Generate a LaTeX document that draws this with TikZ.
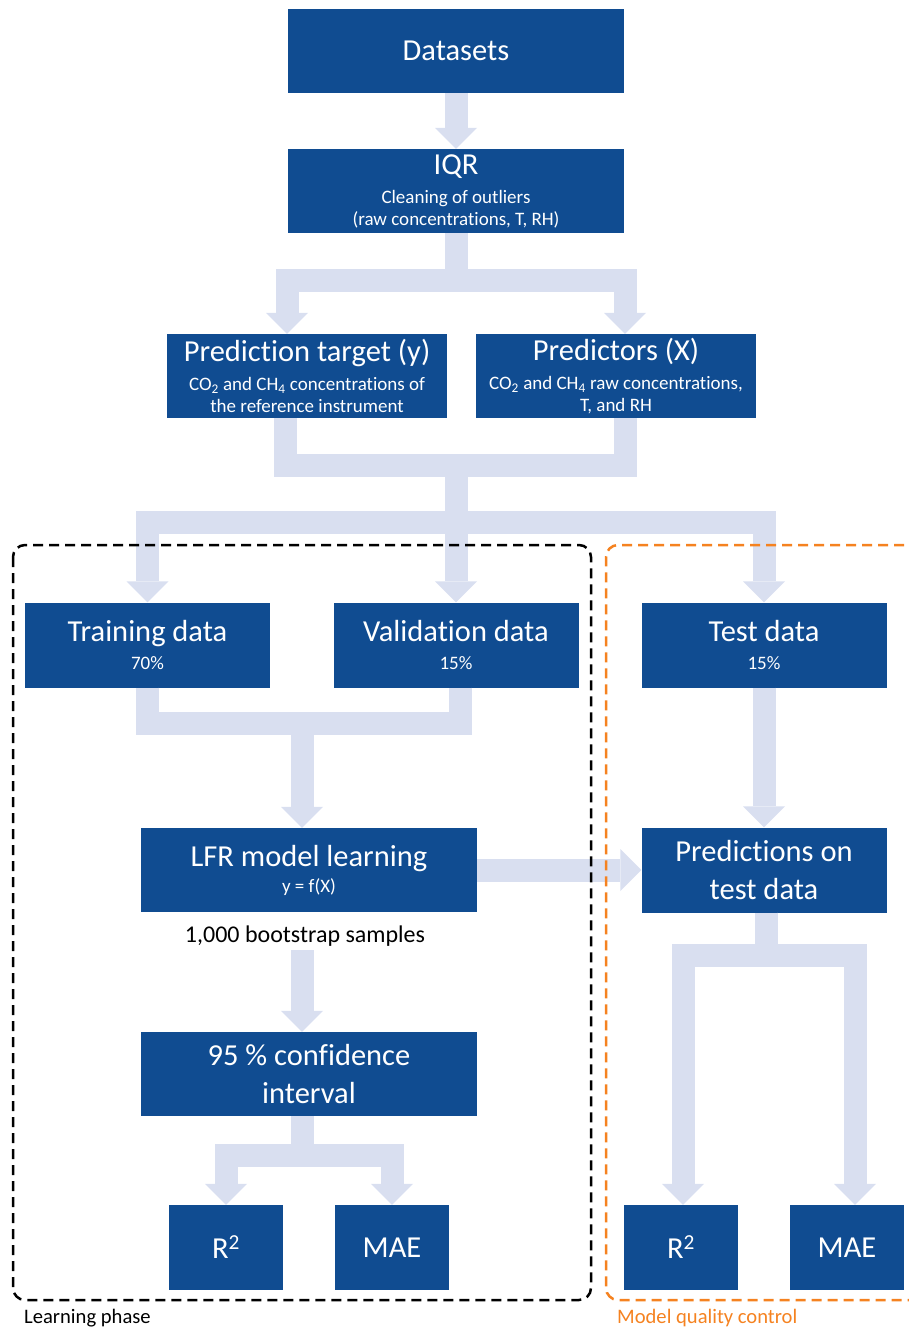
\documentclass[tikz,border=0pt]{standalone}
\usepackage{fontspec}
\setmainfont{Carlito}[Ligatures=NoCommon]
\usepackage{tikz}
\usetikzlibrary{arrows.meta, positioning, calc}

\definecolor{boxblue}{RGB}{16,76,145}
\definecolor{flowgray}{RGB}{217,223,240}
\definecolor{qcorange}{RGB}{245,130,32}

\newcommand{\titlefont}{\fontsize{30.5}{38}\selectfont}
\newcommand{\notefont}{\fontsize{19}{22}\selectfont}

\begin{document}
\begin{tikzpicture}[
  x=1pt, y=-1pt,
  box/.style={fill=boxblue, text=white, inner sep=0pt,
              minimum width=336pt, minimum height=84pt,
              font=\notefont, align=center},
  narrow/.style={box, minimum width=280pt},
  datbox/.style={box, minimum width=245pt, minimum height=85pt},
  metric/.style={box, minimum width=114pt, minimum height=85pt, font=\titlefont},
  flow/.style={draw=flowgray, line width=23pt, line join=miter,
               -{Triangle[width=42pt, length=21pt, line width=0pt]}},
  band/.style={draw=flowgray, line width=23pt, line join=miter},
  phasebox/.style={draw=black, line width=2.5pt, dash pattern=on 10pt off 6pt,
                   rounded corners=12pt},
  qcbox/.style={phasebox, draw=qcorange},
  lbl/.style={inner sep=0pt, anchor=base west, font=\fontsize{20.6}{24}\selectfont},
]
\useasboundingbox (0,0) rectangle (908,1328);

% Input
\node[box, font=\titlefont] (data) at (456,51) {Datasets};
\node[box] (iqr) at (456,191) {\titlefont IQR\\[7pt] Cleaning of outliers\\ (raw concentrations, T, RH)};

% Variables
\node[narrow] (target) at (307,376) {\titlefont Prediction target (y)\\[7pt]
  CO\textsubscript{2} and CH\textsubscript{4} concentrations of\\ the reference instrument};
\node[narrow] (preds) at (616,376) {\titlefont Predictors (X)\\[7pt]
  CO\textsubscript{2} and CH\textsubscript{4} raw concentrations,\\ T, and RH};

% Split
\node[datbox] (train) at (147.5,645) {\titlefont Training data\\[6pt] 70\%};
\node[datbox] (valid) at (456,645) {\titlefont Validation data\\[6pt] 15\%};
\node[datbox] (test) at (764,645) {\titlefont Test data\\[6pt] 15\%};

% Model
\node[box] (lfr) at (309,870) {\titlefont LFR model learning\\[4pt] y = f(X)};
\node[inner sep=0pt, anchor=base, font=\fontsize{24}{28}\selectfont] (boot) at (305,942) {1,000 bootstrap samples};
\node[box, font=\titlefont] (ci) at (309,1074) {95 \% confidence\\interval};
\node[datbox, font=\titlefont] (pred) at (764,870) {Predictions on\\test data};

% Metrics
\node[metric] (r2l) at (226,1247.5) {R\textsuperscript{2}};
\node[metric] (mael) at (392,1247.5) {MAE};
\node[metric] (r2r) at (681,1247.5) {R\textsuperscript{2}};
\node[metric] (maer) at (847,1247.5) {MAE};

% Edges
\coordinate (s1) at (456,280.5);
\coordinate (m1) at (456,465);
\coordinate (s2) at (456,522.5);
\coordinate (m2) at (302,723);
\coordinate (s3) at (302,1155.5);
\coordinate (s4) at (766,955);

\draw[flow] (data) -- (iqr);
\draw[flow] (iqr.south) -- (s1) -| ([xshift=-20pt]target.north);
\draw[flow] (iqr.south) -- (s1) -| ([xshift=9pt]preds.north);

\draw[band] ([xshift=-22pt]target.south) |- (m1);
\draw[band] ([xshift=9pt]preds.south) |- (m1);
\draw[flow] (m1) -- (s2) -| (train.north);
\draw[flow] (m1) -- (valid.north);
\draw[flow] (m1) -- (s2) -| (test.north);

\draw[band] (train.south) |- (m2);
\draw[band] ([xshift=4pt]valid.south) |- (m2);
\draw[flow] (m2) -- ([xshift=-7pt]lfr.north);

\draw[flow] (test) -- (pred);
\draw[flow] (lfr) -- (pred);

\draw[flow] ([xshift=-3pt,yshift=-4pt]boot.south) -- ([xshift=-7pt]ci.north);
\draw[flow] ([xshift=-7pt]ci.south) -- (s3) -| (r2l.north);
\draw[flow] ([xshift=-7pt]ci.south) -- (s3) -| (mael.north);

\draw[flow] ([xshift=2pt]pred.south) -- (s4) -| ([xshift=2pt]r2r.north);
\draw[flow] ([xshift=2pt]pred.south) -- (s4) -| ([xshift=8pt]maer.north);

% Phases
\draw[phasebox] (13,545) rectangle (591,1300);
\draw[qcbox] (920,545) -| (606,1300) -- (920,1300);
\node[lbl] (learn) at (24,1323) {Learning phase};
\node[lbl, text=qcorange] (qc) at (617,1323) {Model quality control};
\end{tikzpicture}
\end{document}
